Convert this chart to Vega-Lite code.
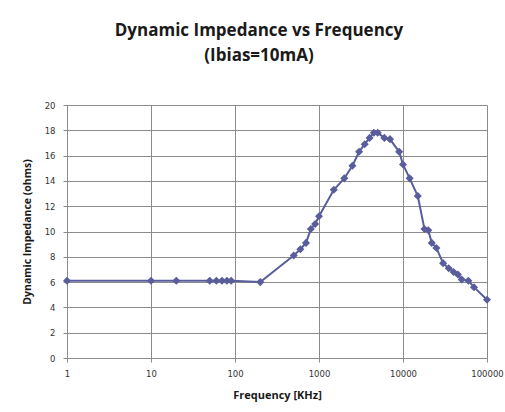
{
  "$schema": "https://vega.github.io/schema/vega-lite/v6.json",
  "width": 420,
  "height": 253,
  "autosize": "none",
  "padding": {"left": 67, "top": 105, "right": 18, "bottom": 54},
  "background": "white",
  "title": {
    "text": ["Dynamic Impedance vs Frequency", "(Ibias=10mA)"],
    "font": "Open Sans",
    "fontSize": 17,
    "fontWeight": "bold",
    "color": "#1a1a1a",
    "lineHeight": 25,
    "anchor": "middle",
    "dx": -18,
    "offset": 36
  },
  "config": {
    "view": {"stroke": null},
    "axis": {
      "gridColor": "#8c8c8c",
      "gridWidth": 1,
      "gridOpacity": 1,
      "domainColor": "#8c8c8c",
      "tickColor": "#8c8c8c",
      "labelFont": "DejaVu Sans",
      "labelFontSize": 8.5,
      "labelColor": "#333333",
      "titleFont": "Open Sans",
      "titleFontWeight": "bold",
      "titleColor": "#1a1a1a"
    }
  },
  "data": {
    "values": [
      {"f": 1, "z": 6.1},
      {"f": 10, "z": 6.1},
      {"f": 20, "z": 6.1},
      {"f": 50, "z": 6.1},
      {"f": 60, "z": 6.1},
      {"f": 70, "z": 6.1},
      {"f": 80, "z": 6.1},
      {"f": 90, "z": 6.1},
      {"f": 200, "z": 6.0},
      {"f": 500, "z": 8.1},
      {"f": 600, "z": 8.6},
      {"f": 700, "z": 9.1},
      {"f": 800, "z": 10.2},
      {"f": 900, "z": 10.6},
      {"f": 1000, "z": 11.2},
      {"f": 1500, "z": 13.3},
      {"f": 2000, "z": 14.2},
      {"f": 2500, "z": 15.2},
      {"f": 3000, "z": 16.3},
      {"f": 3500, "z": 16.9},
      {"f": 4000, "z": 17.4},
      {"f": 4500, "z": 17.8},
      {"f": 5000, "z": 17.8},
      {"f": 6000, "z": 17.4},
      {"f": 7000, "z": 17.3},
      {"f": 9000, "z": 16.3},
      {"f": 10000, "z": 15.3},
      {"f": 12000, "z": 14.2},
      {"f": 15000, "z": 12.8},
      {"f": 18000, "z": 10.2},
      {"f": 20000, "z": 10.1},
      {"f": 22000, "z": 9.1},
      {"f": 25000, "z": 8.7},
      {"f": 30000, "z": 7.5},
      {"f": 35000, "z": 7.1},
      {"f": 40000, "z": 6.8},
      {"f": 45000, "z": 6.6},
      {"f": 50000, "z": 6.2},
      {"f": 60000, "z": 6.1},
      {"f": 70000, "z": 5.6},
      {"f": 100000, "z": 4.6}
    ]
  },
  "mark": {
    "type": "line",
    "color": "#595d9c",
    "strokeWidth": 2,
    "point": {"shape": "diamond", "size": 65, "filled": true, "color": "#595d9c", "opacity": 1}
  },
  "encoding": {
    "x": {
      "field": "f",
      "type": "quantitative",
      "scale": {"type": "log", "domain": [1, 100000], "nice": false},
      "axis": {
        "values": [1, 10, 100, 1000, 10000, 100000],
        "format": "d",
        "title": "Frequency [KHz]",
        "titleFontSize": 11,
        "titlePadding": 12,
        "labelPadding": 7,
        "tickSize": 4,
        "labelFlush": false
      }
    },
    "y": {
      "field": "z",
      "type": "quantitative",
      "scale": {"domain": [0, 20], "nice": false},
      "axis": {
        "values": [0, 2, 4, 6, 8, 10, 12, 14, 16, 18, 20],
        "title": "Dynamic Impedance  (ohms)",
        "titleFontSize": 10.5,
        "titlePadding": 12,
        "labelPadding": 8,
        "tickSize": 4
      }
    }
  }
}
